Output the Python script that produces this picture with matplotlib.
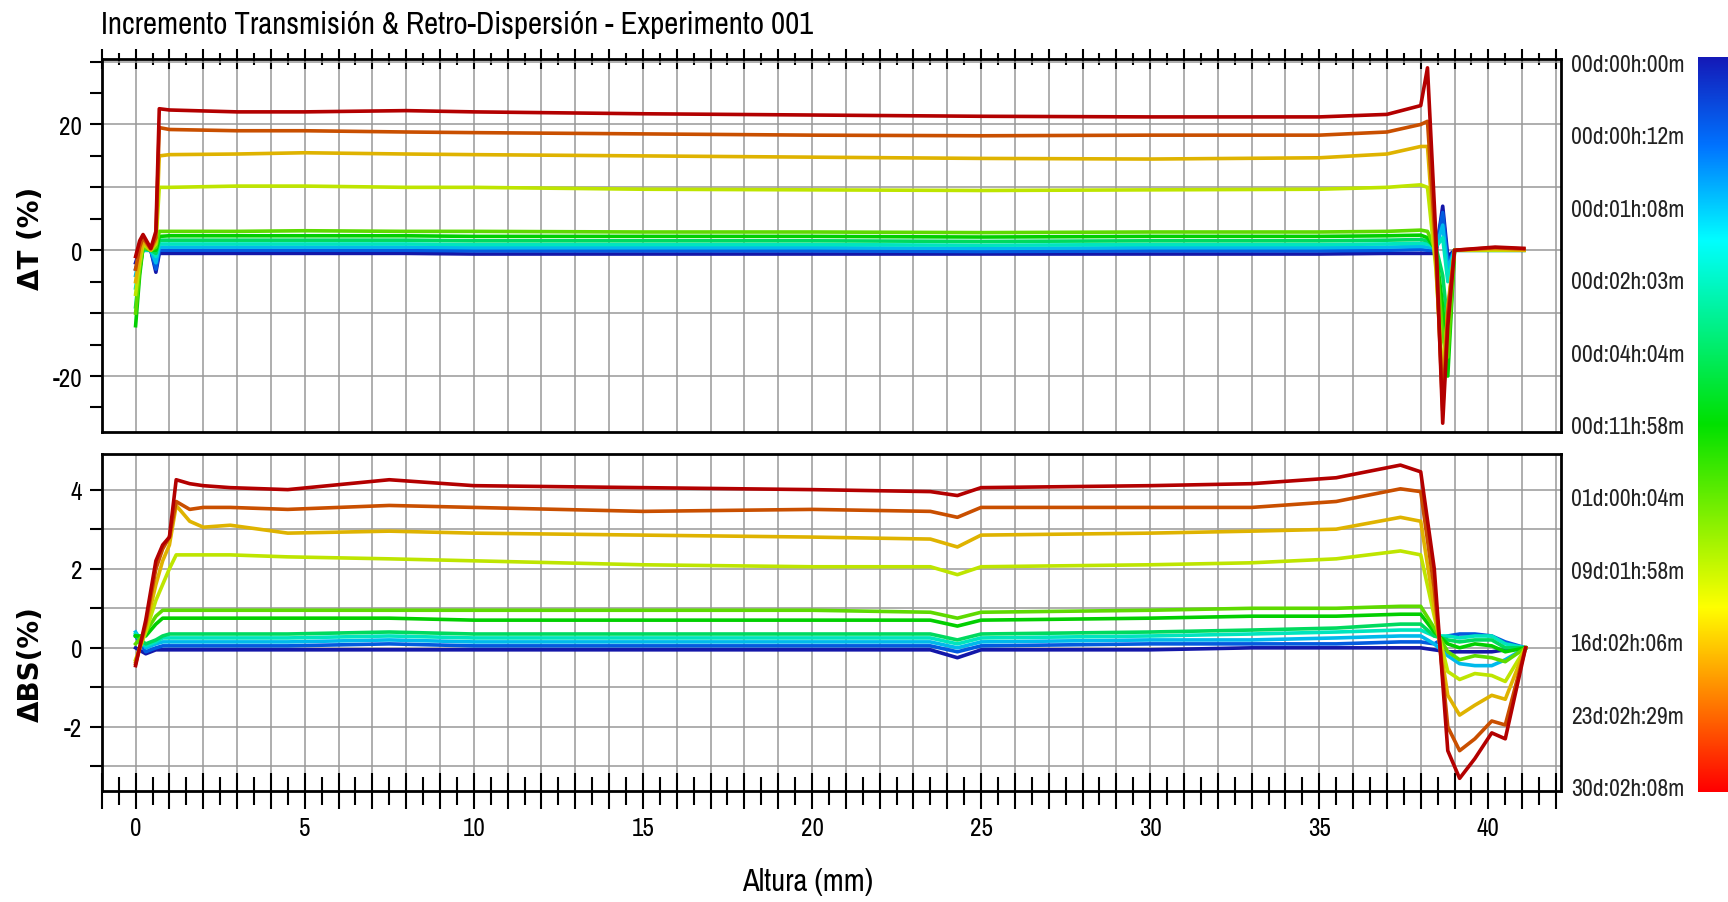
import numpy as np
import matplotlib
matplotlib.use('Agg')
import matplotlib.pyplot as plt
from matplotlib.colors import LinearSegmentedColormap, to_rgb
from matplotlib.ticker import MultipleLocator, FuncFormatter
from matplotlib import font_manager

# --- data ---
scan_labels = ['00d:00h:00m', '00d:00h:12m', '00d:01h:08m', '00d:02h:03m',
               '00d:04h:04m', '00d:11h:58m', '01d:00h:04m', '09d:01h:58m',
               '16d:02h:06m', '23d:02h:29m', '30d:02h:08m']

# Delta T (%) vs height (mm), one list per scan (blue -> red)
x_t = [0.0, 0.12, 0.22, 0.45, 0.6, 0.7, 1.0, 3, 5, 8, 10, 15, 20, 25, 30, 35,
       37, 38.0, 38.2, 38.45, 38.65, 38.8, 39.0, 40.2, 41.05]
dT_0 = [-2, 0, 0, 0, -3.5, -0.5, -0.5, -0.5, -0.5, -0.5, -0.6, -0.6, -0.6, -0.6, -0.6, -0.6, -0.5, -0.5, -0.5, -0.5, 7, -1, 0, 0, 0]
dT_1 = [-3, -1, 0, 0, -3, 0, 0, 0, 0, 0, -0.1, -0.1, -0.1, -0.2, -0.1, -0.1, 0, 0.1, 0, 0, 6, -2, 0, 0, 0]
dT_2 = [-4, -1, 0, 0, -2, 0.5, 0.5, 0.5, 0.5, 0.5, 0.4, 0.4, 0.4, 0.3, 0.4, 0.4, 0.5, 0.6, 0.5, 0.3, 4, -3, 0, 0, 0]
dT_3 = [-6, -2, 0, 0, -1, 1.0, 1.0, 1.0, 1.0, 1.0, 0.9, 0.9, 0.9, 0.8, 0.9, 0.9, 1.0, 1.1, 1.0, 0.5, 2, -5, 0, 0, 0]
dT_4 = [-9, -3, 0.3, 0, -0.5, 1.6, 1.6, 1.6, 1.6, 1.6, 1.5, 1.5, 1.5, 1.4, 1.5, 1.5, 1.6, 1.7, 1.5, 0.5, -4, -12, 0, 0, 0]
dT_5 = [-12, -4, 0.5, 0, 0, 2.2, 2.3, 2.3, 2.3, 2.3, 2.2, 2.2, 2.2, 2.1, 2.2, 2.2, 2.3, 2.4, 2, 0, -9, -20, 0, 0, 0]
dT_6 = [-10, -3, 0.5, 0, 0.5, 3, 3, 3, 3.1, 3, 3, 2.9, 2.9, 2.8, 2.9, 2.9, 3, 3.2, 3, 0, -14, -17, 0, 0, 0]
dT_7 = [-7, -2, 1, 0, 1, 10, 10, 10.2, 10.2, 10, 10, 9.7, 9.6, 9.5, 9.6, 9.7, 10, 10.4, 10, -3, -20, -10, 0, 0, 0]
dT_8 = [-5, -1, 1.5, 0, 1.5, 15, 15.2, 15.3, 15.5, 15.3, 15.2, 15, 14.8, 14.6, 14.5, 14.7, 15.3, 16.5, 16.5, -2, -23, -9, 0, 0.2, 0]
dT_9 = [-3, 0.5, 2, 0.2, 2, 19.5, 19.2, 19, 19, 18.8, 18.7, 18.5, 18.3, 18.2, 18.3, 18.3, 18.8, 20, 20.5, 0, -25.5, -10, 0, 0.4, 0.2]
dT_10 = [-1, 1.5, 2.5, 0.3, 3, 22.5, 22.3, 22, 22, 22.2, 22, 21.7, 21.5, 21.3, 21.2, 21.2, 21.6, 23, 29, 2, -27.5, -12, 0, 0.5, 0.3]

# Delta BS (%) vs height (mm)
x_b = [0.0, 0.3, 0.6, 0.8, 1.0, 1.2, 1.6, 2.0, 2.8, 4.5, 7.5, 10, 15, 20, 23.5,
       24.3, 25, 30, 33, 35.5, 37.4, 38.0, 38.4, 38.8, 39.15, 39.6, 40.1, 40.5, 41.1]
dBS_0 = [0.0, -0.15, -0.05, -0.05, -0.05, -0.05, -0.05, -0.05, -0.05, -0.05, -0.05, -0.05, -0.05, -0.05, -0.05, -0.25, -0.05, -0.05, 0.0, 0.0, 0.0, 0.0, -0.05, -0.1, -0.1, -0.1, -0.1, -0.05, 0]
dBS_1 = [0.3, -0.1, 0.0, 0.05, 0.05, 0.05, 0.05, 0.05, 0.05, 0.05, 0.1, 0.05, 0.05, 0.05, 0.05, -0.1, 0.05, 0.1, 0.1, 0.1, 0.15, 0.15, 0.1, 0.3, 0.35, 0.35, 0.3, 0.15, 0]
dBS_2 = [0.4, 0.0, 0.1, 0.15, 0.15, 0.15, 0.15, 0.15, 0.15, 0.15, 0.2, 0.15, 0.15, 0.15, 0.15, 0.0, 0.15, 0.2, 0.2, 0.25, 0.3, 0.3, 0.1, -0.2, -0.4, -0.45, -0.45, -0.3, 0]
dBS_3 = [0.35, 0.05, 0.15, 0.25, 0.25, 0.25, 0.25, 0.25, 0.25, 0.25, 0.3, 0.25, 0.25, 0.25, 0.25, 0.1, 0.25, 0.3, 0.35, 0.4, 0.45, 0.45, 0.3, 0.3, 0.25, 0.3, 0.3, 0.1, 0]
dBS_4 = [0.3, 0.1, 0.2, 0.3, 0.35, 0.35, 0.35, 0.35, 0.35, 0.35, 0.4, 0.35, 0.35, 0.35, 0.35, 0.2, 0.35, 0.4, 0.45, 0.5, 0.6, 0.6, 0.3, 0.2, 0.15, 0.2, 0.2, 0.0, 0]
dBS_5 = [0.3, 0.3, 0.6, 0.75, 0.75, 0.75, 0.75, 0.75, 0.75, 0.75, 0.75, 0.7, 0.7, 0.7, 0.7, 0.55, 0.7, 0.75, 0.8, 0.8, 0.85, 0.85, 0.4, 0.1, 0.0, 0.1, 0.05, -0.1, 0]
dBS_6 = [0.1, 0.4, 0.8, 0.95, 0.95, 0.95, 0.95, 0.95, 0.95, 0.95, 0.95, 0.95, 0.95, 0.95, 0.9, 0.75, 0.9, 0.95, 1.0, 1.0, 1.05, 1.05, 0.5, -0.1, -0.3, -0.2, -0.25, -0.35, 0]
dBS_7 = [-0.3, 0.4, 1.2, 1.6, 2.0, 2.35, 2.35, 2.35, 2.35, 2.3, 2.25, 2.2, 2.1, 2.05, 2.05, 1.85, 2.05, 2.1, 2.15, 2.25, 2.45, 2.35, 0.8, -0.6, -0.8, -0.65, -0.7, -0.85, 0]
dBS_8 = [-0.35, 0.5, 1.6, 2.2, 2.6, 3.6, 3.2, 3.05, 3.1, 2.9, 2.95, 2.9, 2.85, 2.8, 2.75, 2.55, 2.85, 2.9, 2.95, 3.0, 3.3, 3.2, 1.0, -1.2, -1.7, -1.45, -1.2, -1.3, 0]
dBS_9 = [-0.4, 0.6, 2.0, 2.5, 2.8, 3.7, 3.5, 3.55, 3.55, 3.5, 3.6, 3.55, 3.45, 3.5, 3.45, 3.3, 3.55, 3.55, 3.55, 3.7, 4.02, 3.95, 1.5, -2.0, -2.6, -2.3, -1.85, -1.95, 0]
dBS_10 = [-0.45, 0.7, 2.2, 2.6, 2.8, 4.25, 4.15, 4.1, 4.05, 4.0, 4.25, 4.1, 4.05, 4.0, 3.95, 3.85, 4.05, 4.1, 4.15, 4.3, 4.62, 4.45, 2.0, -2.6, -3.3, -2.8, -2.15, -2.3, 0]

dT_scans = [dT_0, dT_1, dT_2, dT_3, dT_4, dT_5, dT_6, dT_7, dT_8, dT_9, dT_10]
dBS_scans = [dBS_0, dBS_1, dBS_2, dBS_3, dBS_4, dBS_5, dBS_6, dBS_7, dBS_8, dBS_9, dBS_10]

# --- fonts: a narrow face if one is installed, else plain Liberation Sans a bit smaller ---
cond = sorted({f.name for f in font_manager.fontManager.ttflist
               if 'Narrow' in f.name or 'Condensed' in f.name})
if cond:
    face, k = cond[0], 1.0
else:
    face, k = 'Liberation Sans', 0.84
plt.rcParams['font.family'] = [face, 'DejaVu Sans']

cmap = LinearSegmentedColormap.from_list('scan', [
    (0.0, (0.08, 0.10, 0.72)), (0.12, (0.0, 0.45, 1.0)), (0.25, (0.0, 1.0, 1.0)),
    (0.5, (0.0, 0.88, 0.0)), (0.75, (1.0, 1.0, 0.0)), (1.0, (1.0, 0.0, 0.0))])

fig = plt.figure(figsize=(17.28, 9.03), dpi=100)
ax1 = fig.add_axes([0.0589, 0.5205, 0.8445, 0.413])
ax2 = fig.add_axes([0.0589, 0.1229, 0.8445, 0.3732])
cax = fig.add_axes([0.9826, 0.1218, 0.03, 0.814])

n = len(dT_scans)
for i in range(n):
    f = i / (n - 1)
    # traces look a bit darker than the scale itself, red ones most of all
    c = np.array(to_rgb(cmap(f))) * (0.92 - 0.22 * max(0.0, f - 0.75) / 0.25)
    ax1.plot(x_t, dT_scans[i], color=c, lw=2.6, zorder=3)
    ax2.plot(x_b, dBS_scans[i], color=c, lw=2.6, zorder=3)

grid_kw = dict(color='#999999', lw=1.1)
for ax in (ax1, ax2):
    ax.set_xlim(-1.0, 42.15)
    for s in ax.spines.values():
        s.set_linewidth(2)
    ax.grid(True, which='major', **grid_kw)
    ax.set_axisbelow(True)
    ax.tick_params(axis='y', which='both', direction='out', length=9, width=1.5,
                   labelsize=18 * k, pad=5)

# top panel
ax1.set_ylim(-28.9, 30.4)
ax1.xaxis.set_ticks_position('top')
ax1.xaxis.set_major_locator(MultipleLocator(1))
ax1.xaxis.set_minor_locator(MultipleLocator(0.5))
ax1.tick_params(axis='x', which='major', direction='inout', length=14, width=1.5,
                labeltop=False, labelbottom=False)
ax1.tick_params(axis='x', which='minor', direction='inout', length=9, width=1.5)
ax1.yaxis.set_major_locator(MultipleLocator(10))
ax1.yaxis.set_minor_locator(MultipleLocator(5))
ax1.yaxis.set_major_formatter(FuncFormatter(lambda v, p: f'{v:.0f}' if round(v) % 20 == 0 else ''))

# bottom panel
ax2.set_ylim(-3.62, 4.9)
ax2.xaxis.set_major_locator(MultipleLocator(1))
ax2.xaxis.set_minor_locator(MultipleLocator(0.5))
ax2.xaxis.set_major_formatter(FuncFormatter(lambda v, p: f'{v:.0f}' if round(v) % 5 == 0 else ''))
ax2.tick_params(axis='x', which='major', direction='inout', length=26, width=1.5,
                labelsize=18 * k, pad=5)
ax2.tick_params(axis='x', which='minor', direction='inout', length=20, width=1.5)
ax2.yaxis.set_major_locator(MultipleLocator(1))
ax2.yaxis.set_major_formatter(FuncFormatter(lambda v, p: f'{v:.0f}' if round(v) % 2 == 0 else ''))

# colour scale with scan times
grad = np.linspace(0, 1, 256)[:, None]
cax.imshow(grad, aspect='auto', cmap=cmap, extent=[0, 1, 10.07, -0.07])
cax.set_ylim(10.07, -0.07)
cax.set_xticks([])
cax.set_yticks(range(n))
cax.set_yticklabels(scan_labels)
cax.yaxis.tick_left()
cax.tick_params(axis='y', length=0, pad=10, labelsize=17 * k, labelcolor='#222222')
for s in cax.spines.values():
    s.set_visible(False)

fig.text(0.0585, 0.972, 'Incremento Transmisión & Retro-Dispersión - Experimento 001',
         fontsize=22.2 * k, fontweight='bold', ha='left', va='center')
fig.text(0.018, 1 - 238 / 903, 'ΔT (%)', rotation=90, fontsize=20, fontweight='bold',
         family='DejaVu Sans', ha='center', va='center')
fig.text(0.018, 1 - 664 / 903, 'ΔBS(%)', rotation=90, fontsize=20, fontweight='bold',
         family='DejaVu Sans', ha='center', va='center')
fig.text(0.4676, 0.023, 'Altura (mm)', fontsize=22 * k, ha='center', va='center')

fig.savefig('out.png', dpi=100)
